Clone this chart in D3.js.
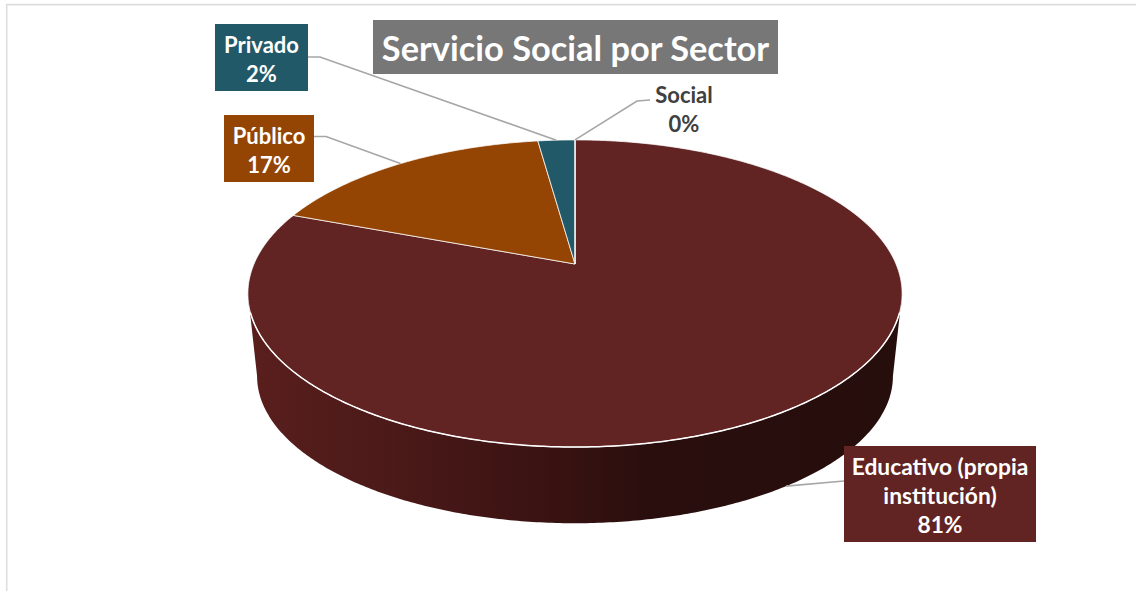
<!DOCTYPE html>
<html>
<head>
<meta charset="utf-8">
<script src="https://cdn.jsdelivr.net/npm/d3@7"></script>
<style>
  html, body { margin: 0; padding: 0; background: #fff; }
  svg { display: block; }
  text { font-family: Lato, "Open Sans", sans-serif; font-weight: 700; }
</style>
</head>
<body>
<svg id="chart"></svg>
<script>
const title = "Servicio Social por Sector";
const categories = ["Educativo (propia institución)", "Público", "Privado", "Social"];
const values = [80.7, 17.1, 2.2, 0];
const sliceColors = ["#622323", "#954503", "#215968", "#4f6228"];

const width = 1136;
const height = 591;

// perspective of the tilted pie: top face and bottom face of the disc
const tilt = 0.192;
const topFace = { cx: 575, cy: 264, rx: 321, ry: 147.9 };
const bottomFace = { cx: 575, cy: 348, rx: 312, ry: 141.6 };

// label boxes, in the order of categories
const labelBoxes = [
  { x: 844, y: 446, w: 192, h: 96, lines: ["Educativo (propia", "institución)"], size: 22.8, dy: 2, from: [844, 481], elbow: null, face: bottomFace },
  { x: 224, y: 115, w: 90, h: 67, lines: ["Público"], size: 22, dy: 2, from: [314, 136.5], elbow: [326, 136.5], face: topFace },
  { x: 215, y: 24, w: 93, h: 67, lines: ["Privado"], size: 22, dy: 2, from: [308, 57], elbow: [320, 57], face: topFace },
  { x: 639, y: 80, w: 90, h: 60, lines: ["Social"], size: 22, dy: 0, from: [650, 100], elbow: [637, 101], face: topFace, plain: true }
];

const svg = d3.select("#chart").attr("width", width).attr("height", height);

// angle is clockwise from the top, like d3.pie
function project(face, angle) {
  const X = Math.sin(angle);
  const Y = -Math.cos(angle);
  const w = 1 - tilt * Y;
  return [face.cx + (face.rx * X) / w, face.cy + (face.ry * Y) / w];
}

function sample(face, a0, a1) {
  const n = Math.max(2, Math.ceil(Math.abs(a1 - a0) / 0.01));
  return d3.range(n + 1).map((i) => project(face, a0 + ((a1 - a0) * i) / n));
}

const line = d3.line();
const rad = Math.PI / 180;

const pie = d3.pie().sort(null).value((d) => d);
const arcs = pie(values);

// frame of the pasted chart
svg.append("path")
  .attr("d", line([[6.7, height], [6.7, 4.6], [width, 4.6]]))
  .attr("fill", "none")
  .attr("stroke", "#dedede")
  .attr("stroke-width", 1.6);

// side wall
const defs = svg.append("defs");
const grad = defs.append("linearGradient")
  .attr("id", "wall")
  .attr("gradientUnits", "userSpaceOnUse")
  .attr("x1", 248).attr("x2", 902).attr("y1", 0).attr("y2", 0);
grad.selectAll("stop")
  .data([[0, "#591f1d"], [0.2, "#4c1a19"], [0.45, "#3a1312"], [0.62, "#290e0d"], [1, "#260e0d"]])
  .join("stop")
  .attr("offset", (d) => d[0])
  .attr("stop-color", (d) => d[1]);

const rightA = Math.acos(-tilt);
const leftA = 2 * Math.PI - rightA;
const wall = sample(topFace, rightA, leftA).concat(sample(bottomFace, leftA, rightA));
svg.append("path")
  .attr("d", line(wall) + "Z")
  .attr("fill", "url(#wall)");

// top face
svg.append("g")
  .selectAll("path")
  .data(arcs)
  .join("path")
  .attr("d", (d) => line([[topFace.cx, topFace.cy]].concat(sample(topFace, d.startAngle, d.endAngle))) + "Z")
  .attr("fill", (d, i) => sliceColors[i])
  .attr("stroke", "#fff")
  .attr("stroke-opacity", 0.75)
  .attr("stroke-width", 1);

// bright rim where the top face meets the wall
svg.append("path")
  .attr("d", line(sample(topFace, 108 * rad, 252 * rad)))
  .attr("fill", "none")
  .attr("stroke", "#fff")
  .attr("stroke-width", 1.5);

// leader lines
svg.append("g")
  .selectAll("path")
  .data(arcs)
  .join("path")
  .attr("d", (d, i) => {
    const b = labelBoxes[i];
    const mid = (d.startAngle + d.endAngle) / 2;
    const pts = [b.from];
    if (b.elbow) pts.push(b.elbow);
    pts.push(project(b.face, mid));
    return line(pts);
  })
  .attr("fill", "none")
  .attr("stroke", "#a6a6a6")
  .attr("stroke-width", 1.6);

// labels
const labels = svg.append("g")
  .selectAll("g")
  .data(arcs)
  .join("g");

labels.filter((d, i) => !labelBoxes[i].plain)
  .append("rect")
  .attr("x", (d) => labelBoxes[d.index].x)
  .attr("y", (d) => labelBoxes[d.index].y)
  .attr("width", (d) => labelBoxes[d.index].w)
  .attr("height", (d) => labelBoxes[d.index].h)
  .attr("fill", (d) => sliceColors[d.index]);

const lineH = 29.3;
labels.each(function (d) {
  const b = labelBoxes[d.index];
  const rows = b.lines.concat([Math.round(d.value) + "%"]);
  const startY = b.y + b.h / 2 - ((rows.length - 1) * lineH) / 2 + b.dy;
  d3.select(this)
    .selectAll("text")
    .data(rows)
    .join("text")
    .attr("x", b.x + b.w / 2)
    .attr("y", (r, i) => startY + i * lineH)
    .attr("dy", "0.35em")
    .attr("text-anchor", "middle")
    .attr("font-size", b.size)
    .attr("fill", b.plain ? "#404040" : "#fff")
    .text((r) => r);
});

// title
svg.append("rect")
  .attr("x", 373).attr("y", 20).attr("width", 405).attr("height", 54)
  .attr("fill", "#777777");
svg.append("text")
  .attr("x", 575.5).attr("y", 49)
  .attr("dy", "0.35em")
  .attr("text-anchor", "middle")
  .attr("font-size", 34.4)
  .attr("fill", "#fff")
  .text(title);
</script>
</body>
</html>
